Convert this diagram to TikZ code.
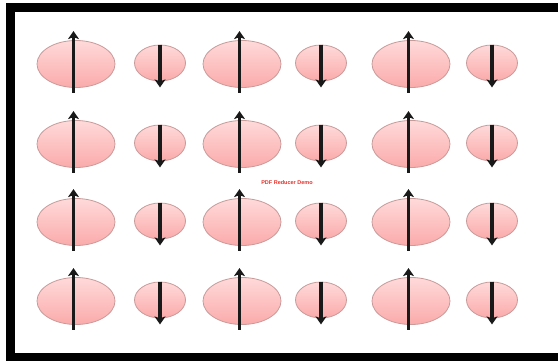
\documentclass[tikz,border=0pt]{standalone}
\usepackage{fontspec}
\setmainfont{Liberation Sans}
\usetikzlibrary{arrows.meta,shapes.geometric}
\definecolor{pinktop}{HTML}{FFDADA}
\definecolor{pinkbot}{HTML}{FBAAAA}
\definecolor{pinkedge}{HTML}{C99A9A}
\definecolor{demored}{HTML}{E8312A}
\tikzset{
  bigell/.style={ellipse, draw=pinkedge, line width=0.8pt, top color=pinktop, bottom color=pinkbot,
    minimum width=78pt, minimum height=47pt, inner sep=0pt},
  smallell/.style={ellipse, draw=pinkedge, line width=0.8pt, top color=pinktop, bottom color=pinkbot,
    minimum width=51pt, minimum height=36pt, inner sep=0pt},
  spinarrow/.style={draw=black!90, line width=3.2pt, -{Stealth[length=8pt,width=11pt,inset=2pt]}},
  frameline/.style={draw=black, line width=9pt},
  demotext/.style={font=\bfseries\fontsize{5.5}{6}\selectfont, text=demored, inner sep=0pt}
}
\begin{document}
\begin{tikzpicture}[x=1pt,y=-1pt]
\useasboundingbox (0,0) rectangle (558,361);
\fill[white] (0,0) rectangle (558,361);
% frame (open on the right)
\draw[frameline] (558,7.5) -- (10.5,7.5) -- (10.5,357) -- (558,357);
% ellipses
\foreach \r/\y in {1/64,2/144,3/222,4/301}{
  \foreach \c/\bx/\sx in {1/76/160,2/242/321,3/411/492}{
    \node[bigell] (b\r\c) at (\bx,\y) {};
    \node[smallell] (s\r\c) at (\sx,\y-1) {};
    \draw[spinarrow] ([xshift=-2.5pt,yshift=-5pt]b\r\c.south) -- ([xshift=-2.5pt,yshift=9pt]b\r\c.north);
    \draw[spinarrow] ([yshift=0pt]s\r\c.north) -- ([yshift=-6pt]s\r\c.south);
  }
}
\node[demotext] (demo) at (287,182.5) {PDF Reducer Demo};
\end{tikzpicture}
\end{document}
